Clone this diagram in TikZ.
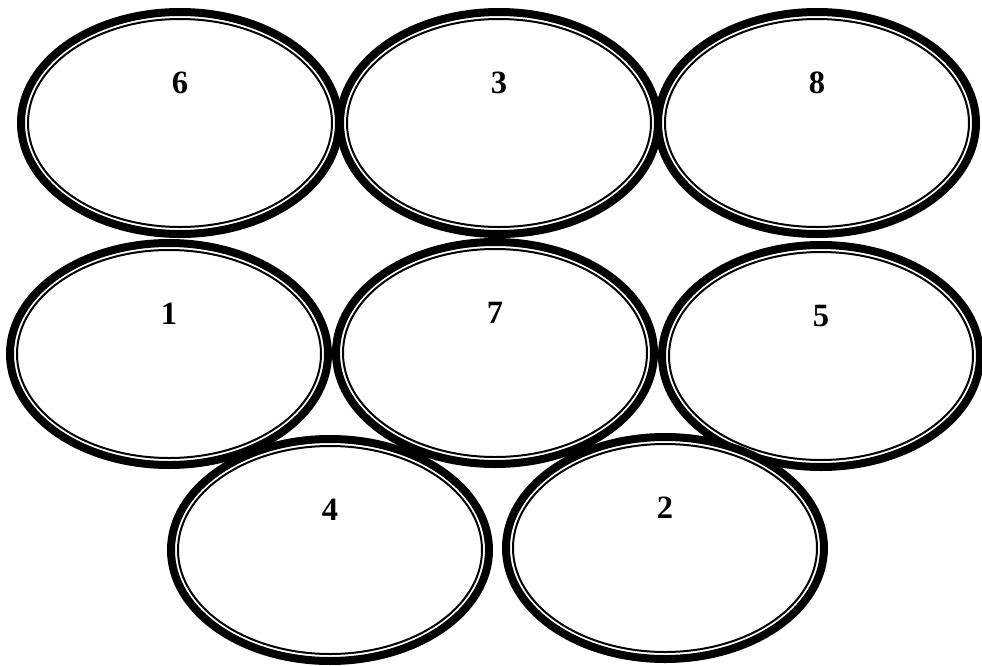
\documentclass[tikz,border=0pt]{standalone}
\usepackage{fontspec}
\setmainfont{Liberation Serif}
\usepackage{tikz}
\usetikzlibrary{shapes.geometric}

\begin{document}
\begin{tikzpicture}[x=0.2mm, y=-0.2mm,
  ring/.style={ellipse, draw=black, fill=white, line width=1.6mm,
    minimum width=63.6mm, minimum height=44.4mm, inner sep=0pt},
  ringin/.style={ellipse, draw=black, line width=0.4mm,
    minimum width=60.8mm, minimum height=41.6mm, inner sep=0pt},
  num/.style={font=\fontsize{18.5}{18.5}\selectfont\bfseries, inner sep=0pt}
]
\useasboundingbox (0,0) rectangle (982,666);
% top row
\node[ring] (r6) at (180,123) {};
\node[ringin] (i6) at (r6.center) {};
\node[ring] (r3) at (499,123) {};
\node[ringin] (i3) at (r3.center) {};
\node[ring] (r8) at (817,123) {};
\node[ringin] (i8) at (r8.center) {};
% middle row
\node[ring] (r1) at (169,354) {};
\node[ringin] (i1) at (r1.center) {};
\node[ring] (r7) at (495,353) {};
\node[ringin] (i7) at (r7.center) {};
\node[ring] (r5) at (821,356) {};
\node[ringin] (i5) at (r5.center) {};
% bottom row
\node[ring] (r4) at (330,550) {};
\node[ringin] (i4) at (r4.center) {};
\node[ring] (r2) at (665,548) {};
\node[ringin] (i2) at (r2.center) {};
% numbers
\node[num] (n6) at ([yshift=8mm]r6.center) {6};
\node[num] (n3) at ([yshift=8mm]r3.center) {3};
\node[num] (n8) at ([yshift=8mm]r8.center) {8};
\node[num] (n1) at ([yshift=8mm]r1.center) {1};
\node[num] (n7) at ([yshift=8mm]r7.center) {7};
\node[num] (n5) at ([yshift=8mm]r5.center) {5};
\node[num] (n4) at ([yshift=8mm]r4.center) {4};
\node[num] (n2) at ([yshift=8mm]r2.center) {2};
\end{tikzpicture}
\end{document}
